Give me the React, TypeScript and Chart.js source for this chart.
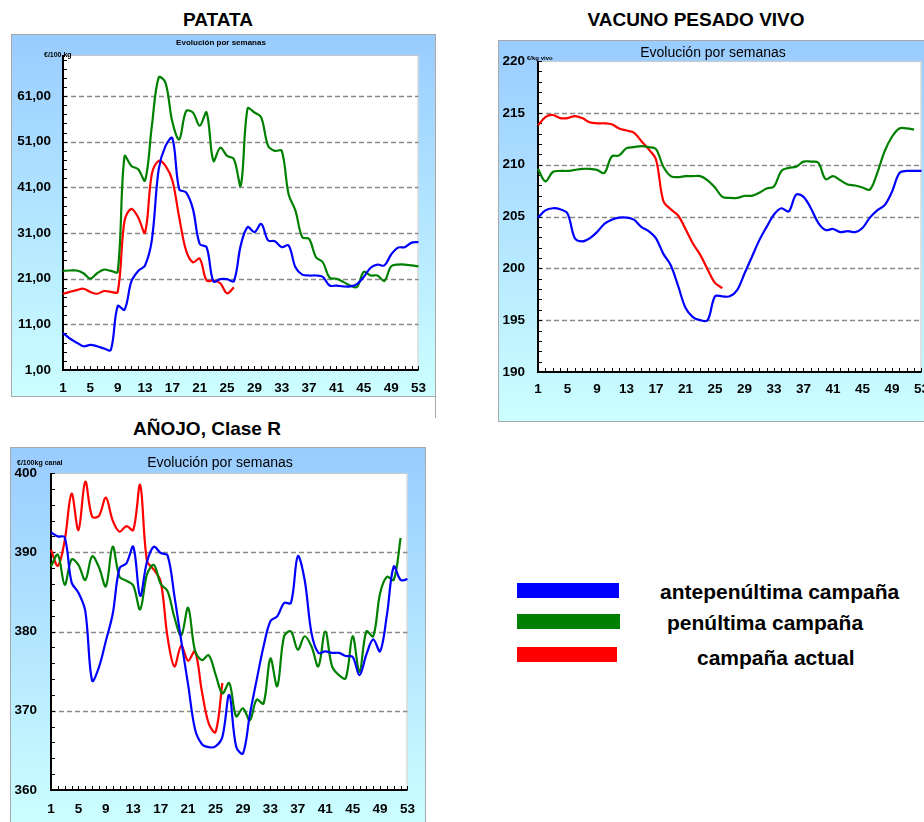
import React, { useEffect, useRef } from 'react';
import { Chart, registerables } from 'chart.js';
Chart.register(...registerables);

// ---------- categories ----------
const weeks = ['1','2','3','4','5','6','7','8','9','10','11','12','13','14','15','16','17','18','19','20','21','22','23','24','25','26','27','28','29','30','31','32','33','34','35','36','37','38','39','40','41','42','43','44','45','46','47','48','49','50','51','52','53'];

// ---------- PATATA (€/100 kg) ----------
const patataAnte = [9.1,7.9,7.0,6.2,6.5,6.2,5.7,5.4,15.0,14.2,20.4,22.7,23.9,29.5,45.0,50.1,51.8,40.6,39.9,36.3,28.6,27.9,20.4,20.9,20.9,20.5,28.3,32.3,31.2,33,29.4,29.2,27.9,28.3,23.5,21.9,21.7,21.7,21.4,19.5,19.5,19.3,19.3,19.8,21.4,23.4,24.1,23.9,26.3,27.8,27.9,28.9,29];
const patataPen = [22.7,22.8,22.8,22.2,21,22.2,23,22.7,22.5,47.8,45.7,45,42.5,54.5,65.1,63.9,55.3,51.5,57.7,57.4,54.5,57.4,46.8,49.7,47.9,47.2,41.4,58.3,57.4,56.3,50.1,49,49,39.5,35.9,30.1,29.7,25.7,24.6,21.2,21,20.3,19.5,19.2,22.5,21.7,21.7,20.5,23.7,24.1,24.1,23.9,23.7];
const patataAct = [17.7,18.1,18.5,18.8,18.1,17.7,18.3,18.1,18.1,33.7,36.3,34.4,31.1,44,46.8,45.7,42.5,34.4,27.2,24.6,25.4,20.6,20.6,20,17.8,19.1];
const patataTicks = [1,11,21,31,41,51,61];

// ---------- VACUNO PESADO VIVO (€/kg vivo) ----------
const vacunoAnte = [204.9,205.6,205.8,205.7,205.3,202.9,202.6,202.9,203.5,204.3,204.7,204.9,204.9,204.7,204,203.6,202.9,201.4,200.3,198.3,196.2,195.3,195,195,197.3,197.3,197.3,197.9,199.5,201.1,202.7,204,205.2,205.8,205.5,207.1,206.9,205.8,204.4,203.7,203.8,203.5,203.6,203.5,203.9,204.9,205.6,206.1,207.4,209.2,209.4,209.4,209.4];
const vacunoPen = [209.6,208.4,209.3,209.4,209.4,209.5,209.6,209.6,209.5,209.2,210.8,210.9,211.6,211.7,211.8,211.7,211.5,209.8,208.9,208.8,208.9,208.9,208.9,208.5,207.8,206.9,206.8,206.8,207,207,207.3,207.7,207.9,209.4,209.7,209.8,210.3,210.3,210.2,208.6,208.9,208.5,208.1,208,207.8,207.6,209.2,211.3,212.7,213.5,213.5,213.4];
const vacunoAct = [213.8,214.6,214.8,214.5,214.5,214.7,214.5,214.1,214,214,213.9,213.5,213.3,213.1,212.3,211.5,210.5,206.5,205.7,205.1,203.8,202.4,201.3,199.9,198.6,198.1];
const vacunoTicks = [190,195,200,205,210,215,220];

// ---------- AÑOJO, Clase R (€/100kg canal) ----------
const anojoAnte = [392.5,392,391.9,386.2,384.9,382.6,373.8,375.5,378.8,382.2,388,388.6,390.7,384.5,388.8,390.7,389.9,389.6,384.5,378.8,373.3,367.7,365.8,365.4,365.5,366.7,372,365.5,364.6,369.5,373.9,378.1,381.3,381.9,383.6,383.6,389.5,386.5,379.8,377.3,377.5,377.3,377.3,376.9,376.8,374.5,377.1,379,377.5,382.1,388.2,386.5,386.6];
const anojoPen = [388.2,389.7,385.9,389.1,388.4,386.5,389.5,388.1,385.7,390.7,386.9,386.4,385.8,382.8,387.2,388.4,386,385.1,381.8,379.5,383,377.6,376.4,377,374.6,372.2,373.5,369.3,370.3,368.8,371.4,370.9,376.6,373.1,379.4,380,377.7,379.4,378.1,375.6,380,375.6,374.5,374.1,379.4,374.9,380,379.4,384.8,386.9,386.5,391.8];
const anojoAct = [390.3,388.3,391.5,397.4,392.8,398.9,394.5,394.6,396.9,394,392.6,393.3,392.8,398.5,388.9,387.8,386.3,379.3,375.6,378.2,376.3,377.5,372.5,368.4,367.3,373.5];
const anojoTicks = [360,370,380,390,400];

const seriesNames = ['antepenúltima campaña', 'penúltima campaña', 'campaña actual'];
const seriesColors = ['#0000FF', '#008000', '#FF0000'];

const FONT = '"Liberation Sans", Arial, sans-serif';

type Spec = {
  x: number; y: number; w: number; h: number;
  yAxisW: number; xAxisH: number; padTop: number; padRight: number;
  yMin: number; yMax: number; ticks: number[]; fmt: (v: number) => string; yMinor: number;
  yPad: number; xPad: number;
  sub: { text: string; font: string; x: number; y: number };
  unit: { text: string; font: string; x: number; y: number };
  data: number[][];
};

function makePlugin(spec: Spec) {
  return {
    id: 'panelDeco',
    beforeDraw(chart: any) {
      const { ctx, width, height, chartArea: a } = chart;
      ctx.save();
      const g = ctx.createLinearGradient(0, 0, 0, height);
      g.addColorStop(0, '#99CCFF');
      g.addColorStop(1, '#CCFFFF');
      ctx.fillStyle = g;
      ctx.fillRect(0, 0, width, height);
      ctx.strokeStyle = '#A8A8A8';
      ctx.lineWidth = 1;
      ctx.strokeRect(0.5, 0.5, width - 1, height - 1);
      ctx.fillStyle = '#FFFFFF';
      ctx.fillRect(a.left, a.top, a.right - a.left, a.bottom - a.top);
      ctx.strokeStyle = '#C8C8C8';
      ctx.strokeRect(a.left + 0.5, a.top + 0.5, a.right - a.left - 1, a.bottom - a.top - 1);
      // dashed grid
      const ys = chart.scales.y;
      ctx.setLineDash([5, 3]);
      ctx.strokeStyle = '#8A8A8A';
      ctx.lineWidth = 1.3;
      spec.ticks.forEach((v) => {
        if (v <= spec.yMin || v >= spec.yMax) return;
        const py = Math.round(ys.getPixelForValue(v)) + 0.5;
        ctx.beginPath();
        ctx.moveTo(a.left, py);
        ctx.lineTo(a.right, py);
        ctx.stroke();
      });
      ctx.setLineDash([]);
      // texts
      ctx.fillStyle = '#000';
      ctx.textBaseline = 'middle';
      ctx.font = spec.sub.font;
      ctx.textAlign = 'center';
      ctx.fillText(spec.sub.text, spec.sub.x, spec.sub.y);
      ctx.restore();
    },
    beforeDatasetsDraw(chart: any) {
      const { ctx, chartArea: a } = chart;
      const xs = chart.scales.x;
      const ys = chart.scales.y;
      ctx.save();
      ctx.strokeStyle = '#000';
      ctx.lineWidth = 1;
      // minor x ticks (inside)
      for (let i = 0; i < weeks.length; i++) {
        const px = Math.round(xs.getPixelForValue(i)) + 0.5;
        ctx.beginPath();
        ctx.moveTo(px, a.bottom - 4);
        ctx.lineTo(px, a.bottom);
        ctx.stroke();
      }
      // minor y ticks (inside)
      for (let v = spec.yMin; v <= spec.yMax + 1e-9; v += spec.yMinor) {
        const py = Math.round(ys.getPixelForValue(v)) + 0.5;
        ctx.beginPath();
        ctx.moveTo(a.left, py);
        ctx.lineTo(a.left + 4, py);
        ctx.stroke();
      }
      // axes
      ctx.lineWidth = 2;
      ctx.beginPath();
      ctx.moveTo(a.left, a.top);
      ctx.lineTo(a.left, a.bottom);
      ctx.lineTo(a.right, a.bottom);
      ctx.stroke();
      ctx.restore();
    },
    afterDraw(chart: any) {
      const { ctx } = chart;
      ctx.save();
      ctx.fillStyle = '#000';
      ctx.textBaseline = 'middle';
      ctx.textAlign = 'left';
      ctx.font = spec.unit.font;
      ctx.fillText(spec.unit.text, spec.unit.x, spec.unit.y);
      ctx.restore();
    },
  };
}

function PanelChart({ spec }: { spec: Spec }) {
  const ref = useRef<HTMLCanvasElement>(null);
  useEffect(() => {
    const tickFont = { family: FONT, size: 13.5, weight: 'bold' as const };
    const chart = new Chart(ref.current!, {
      type: 'line',
      data: {
        labels: weeks,
        datasets: spec.data.map((d, i) => ({
          label: seriesNames[i],
          data: d,
          borderColor: seriesColors[i],
          backgroundColor: seriesColors[i],
          borderWidth: 2.2,
          pointRadius: 0,
          tension: 0.35,
          fill: false,
        })),
      },
      options: {
        responsive: false,
        animation: false,
        events: [],
        layout: { padding: { top: spec.padTop, right: spec.padRight, left: 0, bottom: 0 } },
        plugins: { legend: { display: false }, tooltip: { enabled: false }, title: { display: false } },
        scales: {
          x: {
            type: 'category',
            offset: false,
            grid: { display: false, drawTicks: false },
            border: { display: false },
            ticks: {
              autoSkip: false,
              maxRotation: 0,
              padding: spec.xPad,
              color: '#000',
              font: tickFont,
              callback: (_v: any, i: number) => (i % 4 === 0 ? weeks[i] : ''),
            },
            afterFit: (s: any) => { s.height = spec.xAxisH; },
          },
          y: {
            type: 'linear',
            min: spec.yMin,
            max: spec.yMax,
            grid: { display: false, drawTicks: false },
            border: { display: false },
            ticks: {
              padding: spec.yPad,
              color: '#000',
              font: tickFont,
              callback: (v: any) => spec.fmt(Number(v)),
            },
            afterBuildTicks: (s: any) => { s.ticks = spec.ticks.map((v) => ({ value: v })); },
            afterFit: (s: any) => { s.width = spec.yAxisW; },
          },
        },
      },
      plugins: [makePlugin(spec)],
    } as any);
    return () => chart.destroy();
  }, []);
  return (
    <canvas
      ref={ref}
      width={spec.w}
      height={spec.h}
      style={{ position: 'absolute', left: spec.x, top: spec.y, width: spec.w, height: spec.h, display: 'block' }}
    />
  );
}

const patataSpec: Spec = {
  x: 11, y: 34, w: 425, h: 363,
  yAxisW: 52, xAxisH: 27, padTop: 21, padRight: 11,
  yMin: 1, yMax: 70, ticks: patataTicks, fmt: (v) => v.toFixed(2).replace('.', ','), yMinor: 2,
  yPad: 12, xPad: 10,
  sub: { text: 'Evolución por semanas', font: `bold 8px ${FONT}`, x: 210, y: 9 },
  unit: { text: '€/100 kg', font: `bold 7px ${FONT}`, x: 33, y: 21 },
  data: [patataAnte, patataPen, patataAct],
};

const vacunoSpec: Spec = {
  x: 498, y: 40, w: 440, h: 382,
  yAxisW: 40, xAxisH: 50, padTop: 21, padRight: 16.5,
  yMin: 190, yMax: 220, ticks: vacunoTicks, fmt: (v) => String(Math.round(v)), yMinor: 1,
  yPad: 13, xPad: 9,
  sub: { text: 'Evolución por semanas', font: `14px ${FONT}`, x: 215, y: 13 },
  unit: { text: '€/kg vivo', font: `bold 6px ${FONT}`, x: 29, y: 18 },
  data: [vacunoAnte, vacunoPen, vacunoAct],
};

const anojoSpec: Spec = {
  x: 10, y: 447, w: 416, h: 380,
  yAxisW: 41, xAxisH: 37, padTop: 26, padRight: 11,
  yMin: 360, yMax: 400, ticks: anojoTicks, fmt: (v) => String(Math.round(v)), yMinor: 2,
  yPad: 14, xPad: 11,
  sub: { text: 'Evolución por semanas', font: `14px ${FONT}`, x: 210, y: 16 },
  unit: { text: '€/100kg canal', font: `bold 7px ${FONT}`, x: 7, y: 16 },
  data: [anojoAnte, anojoPen, anojoAct],
};

const titleStyle = (cx: number, cy: number): React.CSSProperties => ({
  position: 'absolute', left: cx - 200, top: cy - 11, width: 400, height: 22,
  lineHeight: '22px', textAlign: 'center', fontFamily: FONT, fontWeight: 'bold', fontSize: 19, color: '#000',
  whiteSpace: 'nowrap',
});

const legendRows = [
  { bar: { top: 583, width: 102 }, text: { left: 660, cy: 592 } },
  { bar: { top: 614, width: 103 }, text: { left: 667, cy: 623 } },
  { bar: { top: 647, width: 100 }, text: { left: 697, cy: 658 } },
];

export default function App() {
  return (
    <div style={{ position: 'absolute', left: 0, top: 0, width: 924, height: 822, overflow: 'hidden', background: '#fff' }}>
      <div style={titleStyle(218, 20)}>PATATA</div>
      <div style={titleStyle(696, 20)}>VACUNO PESADO VIVO</div>
      <div style={titleStyle(207, 429)}>AÑOJO, Clase R</div>
      <PanelChart spec={patataSpec} />
      <div style={{ position: 'absolute', left: 435, top: 397, width: 1, height: 21, background: '#A8A8A8' }} />
      <PanelChart spec={vacunoSpec} />
      <PanelChart spec={anojoSpec} />
      {legendRows.map((r, i) => (
        <React.Fragment key={i}>
          <div style={{ position: 'absolute', left: 517, top: r.bar.top, width: r.bar.width, height: 15, background: seriesColors[i] }} />
          <div style={{
            position: 'absolute', left: r.text.left, top: r.text.cy - 12, height: 24, lineHeight: '24px',
            fontFamily: FONT, fontWeight: 'bold', fontSize: 21, color: '#000', whiteSpace: 'nowrap',
          }}>{seriesNames[i]}</div>
        </React.Fragment>
      ))}
    </div>
  );
}
